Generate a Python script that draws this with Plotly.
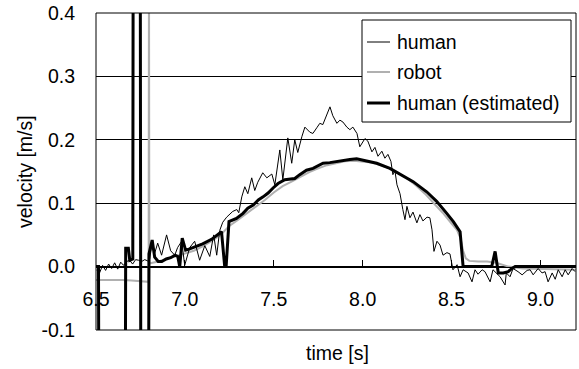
import plotly.graph_objects as go

# ---------------- data ----------------
human_t = [6.503, 6.520, 6.537, 6.554, 6.571, 6.588, 6.605, 6.622, 6.639, 6.655,
           6.672, 6.689, 6.706, 6.723, 6.740, 6.757, 6.774, 6.791, 6.802, 6.813,
           6.830, 6.847, 6.869, 6.897, 6.920, 6.943, 6.959, 6.982, 6.999, 7.027,
           7.055, 7.083, 7.112, 7.140, 7.162, 7.179, 7.196, 7.213, 7.235, 7.269,
           7.292, 7.303, 7.320, 7.337, 7.354, 7.376, 7.393, 7.410, 7.438, 7.461,
           7.489, 7.506, 7.534, 7.551, 7.579, 7.601, 7.618, 7.635, 7.658, 7.675,
           7.703, 7.720, 7.742, 7.759, 7.776, 7.799, 7.816, 7.832, 7.855, 7.872,
           7.889, 7.911, 7.928, 7.945, 7.968, 7.984, 8.013, 8.029, 8.052, 8.069,
           8.086, 8.108, 8.125, 8.142, 8.159, 8.170, 8.181, 8.193, 8.210, 8.226,
           8.238, 8.249, 8.266, 8.283, 8.305, 8.322, 8.339, 8.362, 8.378, 8.390,
           8.401, 8.418, 8.435, 8.452, 8.474, 8.491, 8.508, 8.531, 8.548, 8.565,
           8.593, 8.615, 8.632, 8.649, 8.672, 8.688, 8.717, 8.733, 8.756, 8.773,
           8.801, 8.808, 8.829, 8.846, 8.874, 8.897, 8.925, 8.942, 8.959, 8.987,
           9.009, 9.026, 9.043, 9.066, 9.083, 9.100, 9.122, 9.139, 9.156, 9.178,
           9.195]
human_v = [-0.005, -0.010, 0.002, -0.006, 0.004, -0.003, 0.006, -0.004, 0.007, 0.002,
           0.008, 0.010, 0.004, 0.011, 0.010, 0.008, 0.011, 0.009, 0.012, 0.032,
           0.021, 0.037, 0.018, 0.050, 0.025, 0.018, 0.030, 0.040, 0.002, 0.030,
           0.040, 0.010, 0.033, 0.016, 0.050, 0.018, 0.057, 0.070, 0.078, 0.087,
           0.090, 0.085, 0.110, 0.126, 0.115, 0.140, 0.120, 0.133, 0.148, 0.140,
           0.146, 0.129, 0.184, 0.137, 0.203, 0.163, 0.200, 0.180, 0.205, 0.220,
           0.212, 0.210, 0.219, 0.226, 0.224, 0.239, 0.252, 0.238, 0.226, 0.231,
           0.228, 0.220, 0.216, 0.220, 0.210, 0.189, 0.202, 0.198, 0.181, 0.188,
           0.174, 0.182, 0.171, 0.177, 0.166, 0.145, 0.152, 0.129, 0.115, 0.090,
           0.074, 0.095, 0.077, 0.086, 0.069, 0.082, 0.072, 0.078, 0.077, 0.058,
           0.024, 0.040, 0.034, 0.018, 0.022, 0.020, -0.005, 0.003, -0.016, -0.005,
           -0.010, -0.024, -0.005, -0.012, -0.005, -0.008, -0.024, -0.005, -0.012, -0.016,
           -0.029, -0.010, -0.016, -0.003, -0.008, -0.013, -0.006, -0.005, -0.013, -0.003,
           -0.010, -0.008, -0.024, -0.010, -0.020, -0.005, -0.016, -0.005, -0.013, -0.003,
           -0.008]

robot_t = [6.50, 6.55, 6.60, 6.65, 6.70, 6.75, 6.796, 6.798, 6.800, 6.85,
           6.90, 6.95, 7.00, 7.05, 7.10, 7.15, 7.20, 7.25, 7.30, 7.35,
           7.40, 7.45, 7.50, 7.55, 7.60, 7.65, 7.70, 7.75, 7.80, 7.85,
           7.90, 7.95, 8.00, 8.05, 8.10, 8.15, 8.20, 8.25, 8.30, 8.35,
           8.40, 8.45, 8.50, 8.53, 8.55, 8.565, 8.58, 8.60, 8.65, 8.70,
           8.75, 8.78, 8.82, 8.90, 9.00, 9.10, 9.20]
robot_v = [-0.021, -0.021, -0.020, -0.021, -0.022, -0.023, -0.024, 0.5, 0.005, 0.008,
           0.012, 0.016, 0.020, 0.025, 0.032, 0.040, 0.050, 0.064, 0.074, 0.084,
           0.094, 0.105, 0.117, 0.127, 0.134, 0.142, 0.149, 0.155, 0.160, 0.163,
           0.166, 0.167, 0.166, 0.164, 0.160, 0.155, 0.148, 0.139, 0.128, 0.115,
           0.100, 0.085, 0.068, 0.058, 0.045, 0.025, 0.013, 0.009, 0.008, 0.008,
           0.006, 0.003, 0.000, -0.003, -0.004, -0.005, -0.005]

est_t = [6.500, 6.514, 6.516, 6.665, 6.667, 6.682, 6.690, 6.700, 6.707, 6.709,
         6.749, 6.752, 6.796, 6.798, 6.805, 6.816, 6.830, 6.850, 6.870, 6.895,
         6.920, 6.945, 6.960, 6.971, 6.985, 7.004, 7.027, 7.100, 7.150, 7.206,
         7.224, 7.232, 7.248, 7.290, 7.327, 7.354, 7.384, 7.413, 7.440, 7.468,
         7.496, 7.524, 7.562, 7.590, 7.618, 7.646, 7.684, 7.721, 7.777, 7.815,
         7.872, 7.928, 7.966, 8.022, 8.079, 8.153, 8.209, 8.284, 8.360, 8.416,
         8.473, 8.510, 8.548, 8.565, 8.726, 8.745, 8.763, 8.791, 8.819, 8.839,
         8.858, 9.200]
est_v = [0.000, 0.000, -0.2, -0.2, 0.029, 0.029, 0.010, 0.012, 0.012, 0.5,
         0.5, -0.2, -0.2, 0.020, 0.030, 0.042, 0.015, 0.008, 0.008, 0.012,
         0.014, 0.018, 0.016, 0.000, 0.045, 0.026, 0.028, 0.036, 0.043, 0.055,
         0.000, 0.000, 0.071, 0.076, 0.084, 0.092, 0.097, 0.105, 0.110, 0.116,
         0.124, 0.131, 0.137, 0.138, 0.139, 0.145, 0.152, 0.155, 0.163, 0.164,
         0.167, 0.169, 0.170, 0.167, 0.163, 0.155, 0.146, 0.134, 0.118, 0.103,
         0.084, 0.071, 0.055, 0.000, 0.000, 0.024, -0.010, -0.010, -0.008, -0.003,
         0.000, 0.000]

x_ticks = [6.5, 7.0, 7.5, 8.0, 8.5, 9.0]
x_labels = ["6.5", "7.0", "7.5", "8.0", "8.5", "9.0"]
y_ticks = [-0.1, 0.0, 0.1, 0.2, 0.3, 0.4]
y_labels = ["-0.1", "0.0", "0.1", "0.2", "0.3", "0.4"]
names = ["human", "robot", "human (estimated)"]

# ---------------- layout helpers ----------------
W, H = 579, 369
L, R, T, B = 96, 3, 13, 39
FONT = "Arial, Liberation Sans, sans-serif"
FS = 19.5


def px(x):
    return (x - L) / (W - L - R)


def py(y):
    return (H - B - y) / (H - T - B)


fig = go.Figure()
fig.add_trace(go.Scatter(x=robot_t, y=robot_v, mode="lines", name=names[1],
                         line=dict(color="#b0b0b0", width=2), showlegend=False))
fig.add_trace(go.Scatter(x=human_t, y=human_v, mode="lines", name=names[0],
                         line=dict(color="black", width=1), showlegend=False))
fig.add_trace(go.Scatter(x=est_t, y=est_v, mode="lines", name=names[2],
                         line=dict(color="black", width=3), showlegend=False))

shapes = [
    dict(type="rect", xref="paper", yref="paper", x0=0, x1=1, y0=0, y1=1,
         line=dict(color="black", width=1), layer="above"),
    dict(type="rect", xref="paper", yref="paper", x0=px(362), x1=px(571),
         y0=py(122), y1=py(20), line=dict(color="black", width=1),
         fillcolor="white", layer="above"),
]
leg_y = [42, 72, 103]
leg_style = [dict(color="black", width=1), dict(color="#b0b0b0", width=2),
             dict(color="black", width=3)]
annotations = []
for nm, yy, st in zip(names, leg_y, leg_style):
    shapes.append(dict(type="line", xref="paper", yref="paper", x0=px(367), x1=px(390),
                       y0=py(yy), y1=py(yy), line=st, layer="above"))
    annotations.append(dict(text=nm, xref="paper", yref="paper", x=px(395), y=py(yy),
                            xanchor="left", yanchor="middle", showarrow=False,
                            font=dict(family=FONT, size=FS, color="black")))

annotations.append(dict(text="time [s]", xref="paper", yref="paper", x=px(337), y=py(353),
                        xanchor="center", yanchor="middle", showarrow=False,
                        font=dict(family=FONT, size=FS, color="black")))
annotations.append(dict(text="velocity [m/s]", xref="paper", yref="paper", x=px(25), y=py(172),
                        xanchor="center", yanchor="middle", showarrow=False, textangle=-90,
                        font=dict(family=FONT, size=FS, color="black")))

fig.update_layout(
    width=W, height=H,
    margin=dict(l=L, r=R, t=T, b=B, pad=0),
    paper_bgcolor="white", plot_bgcolor="white",
    font=dict(family=FONT, size=FS, color="black"),
    showlegend=False,
    shapes=shapes,
    annotations=annotations,
    xaxis=dict(range=[6.5, 9.2], tickvals=x_ticks, ticktext=x_labels,
               anchor="free", position=0.2, showline=True, linecolor="black", linewidth=1,
               ticks="inside", ticklen=7, tickcolor="black", showgrid=False, zeroline=False,
               ticklabelstandoff=15, tickfont=dict(family=FONT, size=FS, color="black")),
    yaxis=dict(range=[-0.1, 0.4], tickvals=y_ticks, ticktext=y_labels,
               showgrid=True, gridcolor="black", gridwidth=1, zeroline=False,
               showline=False, ticks="", ticklabelstandoff=20,
               tickfont=dict(family=FONT, size=FS, color="black")),
)

fig.write_html("out.html")
